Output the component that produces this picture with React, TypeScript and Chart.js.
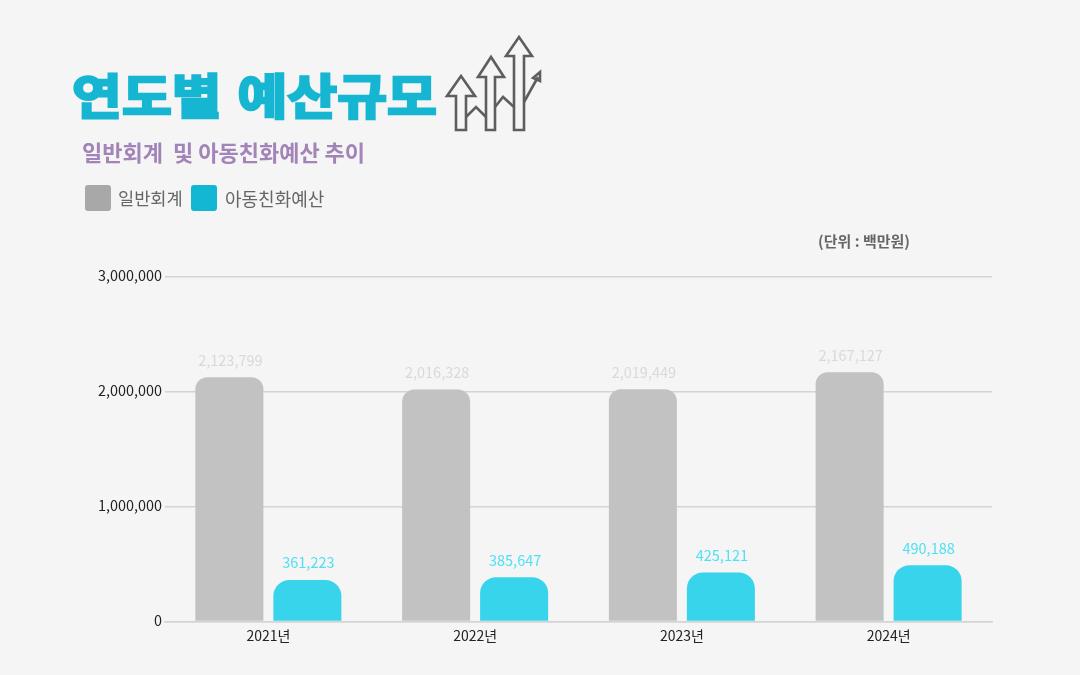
import { useEffect, useRef } from 'react';
import { Chart, registerables } from 'chart.js';
import type { Plugin } from 'chart.js';

Chart.register(...registerables);

const years = ['2021년', '2022년', '2023년', '2024년'];
const generalAccount = [2123799, 2016328, 2019449, 2167127];
const childBudget = [361223, 385647, 425121, 490188];

const FONT = '"Noto Sans CJK KR", "Noto Sans", sans-serif';
const BG = '#f5f5f5';
const GRID = '#d4d4d4';

const valueLabels: Plugin<'bar'> = {
  id: 'valueLabels',
  afterDatasetsDraw(chart) {
    const { ctx } = chart;
    ctx.save();
    ctx.font = `14.5px ${FONT}`;
    ctx.textAlign = 'center';
    ctx.textBaseline = 'middle';
    chart.data.datasets.forEach((ds, i) => {
      ctx.fillStyle = i === 0 ? '#d9d9d9' : '#4fe0f5';
      chart.getDatasetMeta(i).data.forEach((bar, j) => {
        ctx.fillText(Number(ds.data[j]).toLocaleString('en-US'), bar.x + 1, bar.y - 17);
      });
    });
    ctx.restore();
  },
};

function ArrowsIcon() {
  return (
    <svg
      width={1080}
      height={675}
      style={{ position: 'absolute', left: 0, top: 0 }}
      fill="none"
      stroke="#5e5e5e"
      strokeWidth={2.6}
      strokeLinejoin="miter"
    >
      <path d="M456 130V96H447L461 76L475 96H466V130Z" />
      <path d="M486 130V77H478L491 57L504 77H495V130Z" />
      <path d="M514 130V56H506L519 37L532 56H524V130Z" />
      <path d="M466 117L476 107L486 117" />
      <path d="M495 107L503 97L514 107" />
      <path d="M524 102L538 77" />
      <path d="M533 78L540 72L540 81Z" />
    </svg>
  );
}

function Legend({ x, textX, color, label, size }: { x: number; textX: number; color: string; label: string; size: number }) {
  return (
    <>
      <div style={{ position: 'absolute', left: x, top: 185, width: 26, height: 26, borderRadius: 3, background: color }} />
      <div style={{ position: 'absolute', left: textX, top: 185, lineHeight: '26px', fontSize: size, color: '#666', whiteSpace: 'nowrap' }}>
        {label}
      </div>
    </>
  );
}

export default function App() {
  const canvasRef = useRef<HTMLCanvasElement>(null);

  useEffect(() => {
    const canvas = canvasRef.current;
    if (!canvas) return;
    const chart = new Chart(canvas, {
      type: 'bar',
      data: {
        labels: years,
        datasets: [
          {
            label: '일반회계',
            data: generalAccount,
            backgroundColor: '#c2c2c2',
            borderRadius: { topLeft: 12, topRight: 12, bottomLeft: 0, bottomRight: 0 },
            borderSkipped: false,
            categoryPercentage: 0.7545,
            barPercentage: 0.872,
          },
          {
            label: '아동친화예산',
            data: childBudget,
            backgroundColor: '#38d4ec',
            borderRadius: { topLeft: 16, topRight: 16, bottomLeft: 0, bottomRight: 0 },
            borderSkipped: false,
            categoryPercentage: 0.7545,
            barPercentage: 0.872,
          },
        ],
      },
      options: {
        animation: false,
        responsive: false,
        layout: { padding: { top: 276.5, right: 88, left: 0, bottom: 0 } },
        plugins: { legend: { display: false }, tooltip: { enabled: false } },
        scales: {
          x: {
            grid: { display: false, drawTicks: false },
            border: { color: GRID, width: 1.5 },
            ticks: { color: '#222', font: { family: FONT, size: 14 }, padding: 6 },
            afterFit: (scale) => {
              scale.height = 53.5;
            },
          },
          y: {
            min: 0,
            max: 3000000,
            grid: { color: GRID, lineWidth: 1.5, drawTicks: false },
            border: { display: false },
            ticks: {
              stepSize: 1000000,
              color: '#222',
              padding: 3,
              // short line height + empty second line lifts the label about 1.5px
              font: { family: FONT, size: 14.4, lineHeight: 0.2 },
              callback: (v) => [Number(v).toLocaleString('en-US'), ''],
            },
            afterFit: (scale) => {
              scale.width = 165;
              scale.paddingTop = 0;
              scale.paddingBottom = 0;
            },
          },
        },
      },
      plugins: [valueLabels],
    });
    return () => chart.destroy();
  }, []);

  return (
    <div style={{ position: 'fixed', left: 0, top: 0, width: 1080, height: 675, background: BG, fontFamily: FONT, overflow: 'hidden' }}>
      <canvas ref={canvasRef} width={1080} height={675} style={{ position: 'absolute', left: 0, top: 0 }} />
      <div
        style={{
          position: 'absolute',
          left: 72,
          top: 55,
          fontSize: 48,
          lineHeight: '76px',
          fontWeight: 700,
          color: '#16b6d2',
          WebkitTextStroke: '2.5px #16b6d2',
          whiteSpace: 'nowrap',
          wordSpacing: 3,
          transform: 'scaleX(1.13)',
          transformOrigin: 'left center',
        }}
      >
        연도별 예산규모
      </div>
      <div style={{ position: 'absolute', left: 82, top: 135, lineHeight: '32px', fontSize: 22, fontWeight: 700, color: '#a284b8', whiteSpace: 'pre' }}>
        일반회계  및 아동친화예산 추이
      </div>
      <Legend x={85} textX={118} color="#a8a8a8" label="일반회계" size={17.6} />
      <Legend x={191} textX={225} color="#14b7d3" label="아동친화예산" size={18} />
      <div style={{ position: 'absolute', left: 818, top: 231, lineHeight: '20px', fontSize: 15, fontWeight: 700, color: '#666', whiteSpace: 'nowrap' }}>
        (단위 : 백만원)
      </div>
      <ArrowsIcon />
    </div>
  );
}
